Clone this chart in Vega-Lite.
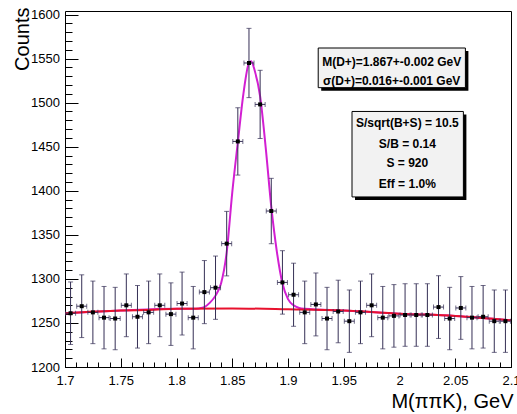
{
  "$schema": "https://vega.github.io/schema/vega-lite/v6.json",
  "autosize": "none",
  "width": 446,
  "height": 356,
  "padding": {"left": 65, "top": 11, "right": 6, "bottom": 47},
  "background": "white",
  "config": {
    "view": {"stroke": "black", "strokeWidth": 1},
    "font": "Liberation Sans"
  },
  "datasets": {
    "pts": [
      {"x": 1.705, "y": 1261, "ey": 35.5, "ex": 0.0045},
      {"x": 1.715, "y": 1269, "ey": 35.6, "ex": 0.0045},
      {"x": 1.725, "y": 1262, "ey": 35.5, "ex": 0.0045},
      {"x": 1.735, "y": 1256, "ey": 35.4, "ex": 0.0045},
      {"x": 1.745, "y": 1255, "ey": 35.4, "ex": 0.0045},
      {"x": 1.755, "y": 1270, "ey": 35.6, "ex": 0.0045},
      {"x": 1.765, "y": 1257, "ey": 35.5, "ex": 0.0045},
      {"x": 1.775, "y": 1262, "ey": 35.5, "ex": 0.0045},
      {"x": 1.785, "y": 1270, "ey": 35.6, "ex": 0.0045},
      {"x": 1.795, "y": 1260, "ey": 35.5, "ex": 0.0045},
      {"x": 1.805, "y": 1272, "ey": 35.7, "ex": 0.0045},
      {"x": 1.815, "y": 1256, "ey": 35.4, "ex": 0.0045},
      {"x": 1.825, "y": 1285, "ey": 35.8, "ex": 0.0045},
      {"x": 1.835, "y": 1290, "ey": 35.9, "ex": 0.0045},
      {"x": 1.845, "y": 1340, "ey": 36.6, "ex": 0.0045},
      {"x": 1.855, "y": 1456, "ey": 38.2, "ex": 0.0045},
      {"x": 1.865, "y": 1545, "ey": 39.3, "ex": 0.0045},
      {"x": 1.875, "y": 1498, "ey": 38.7, "ex": 0.0045},
      {"x": 1.885, "y": 1377, "ey": 37.1, "ex": 0.0045},
      {"x": 1.895, "y": 1296, "ey": 36.0, "ex": 0.0045},
      {"x": 1.905, "y": 1282, "ey": 35.8, "ex": 0.0045},
      {"x": 1.915, "y": 1262, "ey": 35.5, "ex": 0.0045},
      {"x": 1.925, "y": 1271, "ey": 35.7, "ex": 0.0045},
      {"x": 1.935, "y": 1255, "ey": 35.4, "ex": 0.0045},
      {"x": 1.945, "y": 1263, "ey": 35.5, "ex": 0.0045},
      {"x": 1.955, "y": 1252, "ey": 35.4, "ex": 0.0045},
      {"x": 1.965, "y": 1262, "ey": 35.5, "ex": 0.0045},
      {"x": 1.975, "y": 1270, "ey": 35.6, "ex": 0.0045},
      {"x": 1.985, "y": 1256, "ey": 35.4, "ex": 0.0045},
      {"x": 1.995, "y": 1258, "ey": 35.5, "ex": 0.0045},
      {"x": 2.005, "y": 1259, "ey": 35.5, "ex": 0.0045},
      {"x": 2.015, "y": 1259, "ey": 35.5, "ex": 0.0045},
      {"x": 2.025, "y": 1259, "ey": 35.5, "ex": 0.0045},
      {"x": 2.035, "y": 1268, "ey": 35.6, "ex": 0.0045},
      {"x": 2.045, "y": 1255, "ey": 35.4, "ex": 0.0045},
      {"x": 2.055, "y": 1267, "ey": 35.6, "ex": 0.0045},
      {"x": 2.065, "y": 1256, "ey": 35.4, "ex": 0.0045},
      {"x": 2.075, "y": 1257, "ey": 35.5, "ex": 0.0045},
      {"x": 2.085, "y": 1252, "ey": 35.4, "ex": 0.0045},
      {"x": 2.095, "y": 1252, "ey": 35.4, "ex": 0.0045}
    ],
    "total": [
      {"x": 1.70, "y": 1261}, {"x": 1.75, "y": 1264}, {"x": 1.80, "y": 1266},
      {"x": 1.815, "y": 1266}, {"x": 1.82, "y": 1266.5}, {"x": 1.825, "y": 1268},
      {"x": 1.83, "y": 1273}, {"x": 1.835, "y": 1281}, {"x": 1.84, "y": 1295},
      {"x": 1.845, "y": 1330}, {"x": 1.85, "y": 1398}, {"x": 1.855, "y": 1455},
      {"x": 1.86, "y": 1510}, {"x": 1.865, "y": 1545}, {"x": 1.867, "y": 1547},
      {"x": 1.87, "y": 1537}, {"x": 1.875, "y": 1507}, {"x": 1.88, "y": 1449},
      {"x": 1.885, "y": 1382}, {"x": 1.89, "y": 1331}, {"x": 1.895, "y": 1295},
      {"x": 1.90, "y": 1277}, {"x": 1.905, "y": 1270}, {"x": 1.91, "y": 1267},
      {"x": 1.915, "y": 1266}, {"x": 1.95, "y": 1264}, {"x": 2.00, "y": 1260.5},
      {"x": 2.05, "y": 1258}, {"x": 2.10, "y": 1253}
    ],
    "bkg": [
      {"x": 1.70, "y": 1261}, {"x": 1.75, "y": 1264}, {"x": 1.78, "y": 1265},
      {"x": 1.80, "y": 1266}, {"x": 1.85, "y": 1266.5}, {"x": 1.90, "y": 1265.5},
      {"x": 1.95, "y": 1264}, {"x": 2.00, "y": 1260.5}, {"x": 2.05, "y": 1258},
      {"x": 2.10, "y": 1253}
    ],
    "boxes": [
      {"x1": 1.9271, "x2": 2.0591, "y1": 1562, "y2": 1517},
      {"x1": 1.9574, "x2": 2.0573, "y1": 1490, "y2": 1393}
    ],
    "labels": [
      {"x": 1.993, "y": 1545.8, "t": "M(D+)=1.867+-0.002 GeV"},
      {"x": 1.993, "y": 1524.3, "t": "σ(D+)=0.016+-0.001 GeV"},
      {"x": 2.007, "y": 1477.4, "t": "S/sqrt(B+S) = 10.5"},
      {"x": 2.007, "y": 1453.3, "t": "S/B = 0.14"},
      {"x": 2.007, "y": 1431.3, "t": "S = 920"},
      {"x": 2.007, "y": 1408, "t": "Eff = 1.0%"}
    ]
  },
  "resolve": {"axis": {"x": "independent", "y": "independent"}},
  "layer": [
    {
      "data": {"name": "total"},
      "mark": {"type": "line", "color": "#d21fd2", "strokeWidth": 2, "interpolate": "monotone", "clip": true},
      "encoding": {
        "x": {"field": "x", "type": "quantitative",
          "scale": {"domain": [1.7, 2.1], "nice": false, "zero": false},
          "axis": {"orient": "bottom", "values": [1.7, 1.75, 1.8, 1.85, 1.9, 1.95, 2.0, 2.05, 2.1],
            "labelExpr": "format(datum.value, '~g')", "tickSize": -9, "tickColor": "black", "tickWidth": 1,
            "labelPadding": 16, "labelFont": "Liberation Sans", "labelFontSize": 13, "labelColor": "black",
            "labelFlush": false, "labelOverlap": false, "domain": false, "grid": false,
            "title": "M(ππK), GeV", "titleFont": "Liberation Sans", "titleFontSize": 20, "titleFontWeight": "normal",
            "titleColor": "black", "titleAnchor": "end", "titleAlign": "right", "titleBaseline": "alphabetic",
            "titleX": 448, "titleY": 40}},
        "y": {"field": "y", "type": "quantitative",
          "scale": {"domain": [1200, 1604], "nice": false, "zero": false},
          "axis": {"orient": "left", "values": [1200, 1250, 1300, 1350, 1400, 1450, 1500, 1550, 1600],
            "format": "d", "tickSize": -13, "tickColor": "black", "tickWidth": 1,
            "labelPadding": 18.5, "labelFont": "Liberation Sans", "labelFontSize": 13, "labelColor": "black",
            "labelFlush": false, "labelOverlap": false, "domain": false, "grid": false,
            "title": "Counts", "titleFont": "Liberation Sans", "titleFontSize": 20, "titleFontWeight": "normal",
            "titleColor": "black", "titleAnchor": "end", "titleAngle": -90, "titleAlign": "right",
            "titleBaseline": "alphabetic", "titleX": -37, "titleY": -4}}
      }
    },
    {
      "data": {"name": "bkg"},
      "mark": {"type": "line", "color": "#e8112d", "strokeWidth": 2, "interpolate": "monotone", "clip": true},
      "encoding": {
        "x": {"field": "x", "type": "quantitative",
          "axis": {"orient": "bottom", "values": [1.7, 1.71, 1.72, 1.73, 1.74, 1.75, 1.76, 1.77, 1.78, 1.79, 1.8, 1.81, 1.82, 1.83, 1.84, 1.85, 1.86, 1.87, 1.88, 1.89, 1.9, 1.91, 1.92, 1.93, 1.94, 1.95, 1.96, 1.97, 1.98, 1.99, 2.0, 2.01, 2.02, 2.03, 2.04, 2.05, 2.06, 2.07, 2.08, 2.09, 2.1],
            "tickSize": -5, "tickColor": "black", "tickWidth": 1, "labels": false, "domain": false, "grid": false, "title": null}},
        "y": {"field": "y", "type": "quantitative",
          "axis": {"orient": "left", "values": [1200, 1210, 1220, 1230, 1240, 1250, 1260, 1270, 1280, 1290, 1300, 1310, 1320, 1330, 1340, 1350, 1360, 1370, 1380, 1390, 1400, 1410, 1420, 1430, 1440, 1450, 1460, 1470, 1480, 1490, 1500, 1510, 1520, 1530, 1540, 1550, 1560, 1570, 1580, 1590, 1600],
            "tickSize": -7, "tickColor": "black", "tickWidth": 1, "labels": false, "domain": false, "grid": false, "title": null}}
      }
    },
    {
      "data": {"name": "pts"},
      "mark": {"type": "errorbar", "ticks": {"size": 5}, "color": "#352f55", "thickness": 1},
      "encoding": {
        "x": {"field": "x", "type": "quantitative", "axis": null},
        "y": {"field": "y", "type": "quantitative", "axis": null},
        "yError": {"field": "ey"}
      }
    },
    {
      "data": {"name": "pts"},
      "mark": {"type": "errorbar", "ticks": {"size": 5}, "color": "#352f55", "thickness": 1},
      "encoding": {
        "x": {"field": "x", "type": "quantitative", "axis": null},
        "xError": {"field": "ex"},
        "y": {"field": "y", "type": "quantitative", "axis": null}
      }
    },
    {
      "data": {"name": "pts"},
      "mark": {"type": "point", "shape": "square", "filled": true, "color": "black", "size": 16, "opacity": 1},
      "encoding": {
        "x": {"field": "x", "type": "quantitative", "axis": null},
        "y": {"field": "y", "type": "quantitative", "axis": null}
      }
    },
    {
      "data": {"name": "boxes"},
      "mark": {"type": "rect", "color": "black", "xOffset": 3, "x2Offset": 3, "yOffset": 3, "y2Offset": 3},
      "encoding": {
        "x": {"field": "x1", "type": "quantitative", "axis": null},
        "x2": {"field": "x2"},
        "y": {"field": "y1", "type": "quantitative", "axis": null},
        "y2": {"field": "y2"}
      }
    },
    {
      "data": {"name": "boxes"},
      "mark": {"type": "rect", "fill": "#f2f2f2", "stroke": "black", "strokeWidth": 1},
      "encoding": {
        "x": {"field": "x1", "type": "quantitative", "axis": null},
        "x2": {"field": "x2"},
        "y": {"field": "y1", "type": "quantitative", "axis": null},
        "y2": {"field": "y2"}
      }
    },
    {
      "data": {"name": "labels"},
      "mark": {"type": "text", "font": "Liberation Sans", "fontWeight": "bold", "fontSize": 12, "align": "center", "baseline": "middle", "color": "black"},
      "encoding": {
        "x": {"field": "x", "type": "quantitative", "axis": null},
        "y": {"field": "y", "type": "quantitative", "axis": null},
        "text": {"field": "t"}
      }
    }
  ]
}
